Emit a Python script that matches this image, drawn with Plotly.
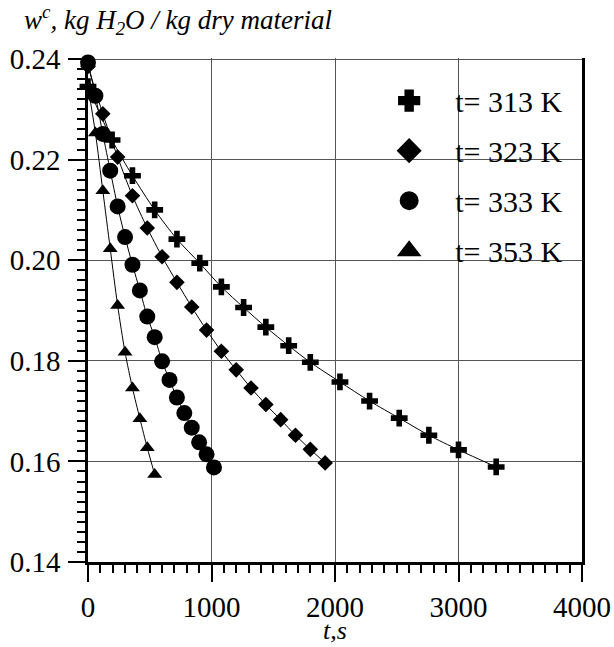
import plotly.graph_objects as go

# ---- data ----
t_313 = [0, 195, 360, 540, 720, 905, 1080, 1260, 1440, 1625, 1800, 2040, 2280, 2520, 2760, 3000, 3305]
w_313 = [0.2345, 0.2239, 0.2168, 0.2100, 0.2042, 0.1994, 0.1947, 0.1906, 0.1867, 0.1830, 0.1797,
         0.1758, 0.1720, 0.1686, 0.1652, 0.1623, 0.1589]

t_323 = [0, 120, 240, 360, 480, 600, 720, 840, 960, 1080, 1200, 1320, 1440, 1560, 1680, 1800, 1920]
w_323 = [0.2385, 0.2291, 0.2205, 0.2128, 0.2064, 0.2007, 0.1956, 0.1907, 0.1861, 0.1819, 0.1782,
         0.1746, 0.1713, 0.1683, 0.1652, 0.1624, 0.1597]

t_333 = [0, 60, 120, 180, 240, 300, 360, 420, 480, 540, 600, 660, 720, 780, 840, 900, 960, 1020]
w_333 = [0.2393, 0.2327, 0.2251, 0.2178, 0.2107, 0.2046, 0.1991, 0.1940, 0.1888, 0.1847, 0.1799,
         0.1762, 0.1727, 0.1696, 0.1667, 0.1638, 0.1614, 0.1588]

t_353 = [0, 60, 120, 180, 240, 300, 360, 420, 480, 540]
w_353 = [0.2345, 0.2253, 0.2138, 0.2023, 0.1910, 0.1817, 0.1746, 0.1685, 0.1627, 0.1574]

series_names = ["t= 313 K", "t= 323 K", "t= 333 K", "t= 353 K"]
symbols = ["cross", "diamond", "circle", "triangle-up"]
sizes = [14, 12, 16, 13]

x_ticks = [0, 1000, 2000, 3000, 4000]
y_ticks = [0.14, 0.16, 0.18, 0.20, 0.22, 0.24]

FONT = "serif"

fig = go.Figure()
data = [(t_313, w_313), (t_323, w_323), (t_333, w_333), (t_353, w_353)]
for (tx, wy), name, sym, sz in zip(data, series_names, symbols, sizes):
    fig.add_trace(go.Scatter(
        x=tx, y=wy, mode="lines+markers", name=name, showlegend=False, cliponaxis=False,
        line=dict(color="black", width=1, shape="spline", smoothing=0.8),
        marker=dict(symbol=sym, size=sz, color="black", line=dict(width=0)),
    ))
# legend-only entries (bigger symbols)
for name, sym in zip(series_names, symbols):
    fig.add_trace(go.Scatter(
        x=[None], y=[None], mode="markers", name=name, legendgroup=name,
        marker=dict(symbol=sym, size=16, color="black", line=dict(width=3, color="black")),
    ))

axis_common = dict(
    showline=True, linecolor="black", linewidth=2.5,
    ticks="outside", ticklen=17, tickwidth=2, tickcolor="black",
    showgrid=True, gridcolor="#555555", gridwidth=1,
    zeroline=False, automargin=False,
    tickfont=dict(family=FONT, size=29, color="black"),
)

fig.update_xaxes(
    range=[0, 4000], tickvals=x_ticks,
    minor=dict(dtick=100, ticks="outside", ticklen=8, tickwidth=1.5, tickcolor="black", showgrid=False),
    **axis_common,
)
fig.update_yaxes(
    range=[0.14, 0.2402], tickvals=y_ticks, tickformat=".2f", mirror=True,
    minor=dict(dtick=0.002, ticks="outside", ticklen=8, tickwidth=1.5, tickcolor="black", showgrid=False),
    ticklabelstandoff=2,
    **axis_common,
)

fig.update_layout(
    template="none",
    width=614, height=647,
    margin=dict(l=88, r=32, t=58, b=85),
    paper_bgcolor="white", plot_bgcolor="white",
    font=dict(family=FONT, color="black"),
    legend=dict(
        x=0.557, y=0.967, xanchor="left", yanchor="top",
        bgcolor="rgba(0,0,0,0)", borderwidth=0,
        font=dict(family=FONT, size=30, color="black"),
        tracegroupgap=8, itemwidth=82,
    ),
    shapes=[dict(type="rect", xref="paper", yref="paper", x0=0.519, x1=0.992, y0=0.5417, y1=1.01,
                 fillcolor="white", line=dict(width=0), layer="between")],
    annotations=[
        dict(text="<i>w<sup>c</sup>, kg H<sub>2</sub>O / kg dry material</i>",
             xref="paper", yref="paper", x=-0.1345, y=1.076, xanchor="left", yanchor="middle",
             showarrow=False, font=dict(family=FONT, size=27, color="black")),
        dict(text="<i>t,s</i>",
             xref="paper", yref="paper", x=0.5, y=-0.1357, xanchor="center", yanchor="middle",
             showarrow=False, font=dict(family=FONT, size=26, color="black")),
    ],
)

fig.write_html("out.html", config={"displayModeBar": False},
               post_script="document.body.style.margin='0px';")
